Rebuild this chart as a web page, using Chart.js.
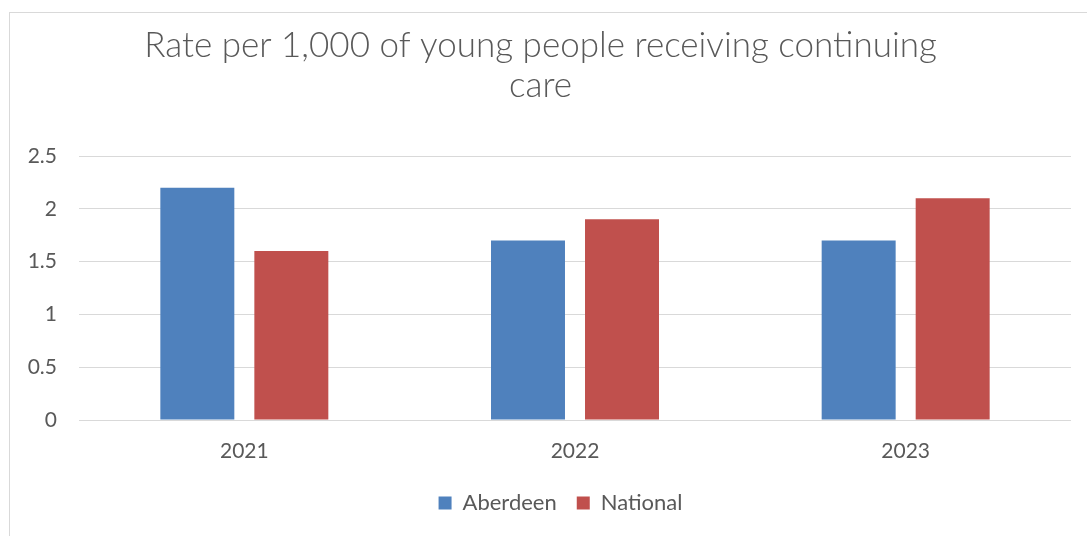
<!DOCTYPE html>
<html>
<head>
<meta charset="utf-8">
<script src="https://cdn.jsdelivr.net/npm/chart.js@4/dist/chart.umd.min.js"></script>
<style>
html,body{margin:0;padding:0;background:#fff;}
#wrap{position:relative;width:1087px;height:536px;}
</style>
</head>
<body>
<div id="wrap"><canvas id="c" width="1087" height="536"></canvas></div>
<script>
const categories = ['2021', '2022', '2023'];
const aberdeen = [2.2, 1.7, 1.7];
const national = [1.6, 1.9, 2.1];
const titleLines = ['Rate per 1,000 of young people receiving continuing', 'care'];
const yMax = 2.5;
const yStep = 0.5;

const FONT = 'Lato, "Open Sans", "Liberation Sans", sans-serif';
const TXT = '#595959';

const frame = {
  id: 'frame',
  beforeDraw(chart) {
    const ctx = chart.ctx;
    ctx.save();
    ctx.fillStyle = '#ffffff';
    ctx.fillRect(0, 0, chart.width, chart.height);
    ctx.strokeStyle = '#D9D9D9';
    ctx.lineWidth = 1;
    ctx.strokeRect(9.5, 12.5, chart.width + 20, chart.height + 20);
    ctx.restore();
  }
};

const legendShift = {
  id: 'legendShift',
  afterLayout(chart) {
    if (chart.legend) {
      chart.legend.left += 20;
      chart.legend.right += 20;
    }
  }
};

new Chart(document.getElementById('c'), {
  type: 'bar',
  data: {
    labels: categories,
    datasets: [
      { label: 'Aberdeen', data: aberdeen, backgroundColor: '#4F81BD', barPercentage: 0.787, categoryPercentage: 0.5686 },
      { label: 'National', data: national, backgroundColor: '#C0504D', barPercentage: 0.787, categoryPercentage: 0.5686 }
    ]
  },
  plugins: [frame, legendShift],
  options: {
    responsive: false,
    animation: false,
    layout: { padding: { left: 10, right: 16, top: 10, bottom: 12 } },
    plugins: {
      title: {
        display: true,
        text: titleLines,
        color: TXT,
        font: { family: FONT, size: 35, weight: '300', lineHeight: 1.143 },
        padding: { top: 16, bottom: 50 }
      },
      legend: {
        position: 'bottom',
        labels: {
          color: TXT,
          font: { family: FONT, size: 22 },
          boxWidth: 13,
          boxHeight: 13,
          padding: 20
        }
      },
      tooltip: { enabled: false }
    },
    scales: {
      x: {
        grid: { display: false, drawTicks: false },
        border: { display: false },
        ticks: { color: TXT, font: { family: FONT, size: 21 }, padding: 19 },
        afterFit(s) { s.height = 52; }
      },
      y: {
        min: 0,
        max: yMax,
        grid: { color: '#D9D9D9', lineWidth: 1, drawTicks: false },
        border: { display: false },
        ticks: {
          stepSize: yStep, color: TXT, font: { family: FONT, size: 21 }, padding: 22,
          callback: (v) => String(Number(v))
        },
        afterFit(s) { s.width = 69; }
      }
    }
  }
});
</script>
</body>
</html>
